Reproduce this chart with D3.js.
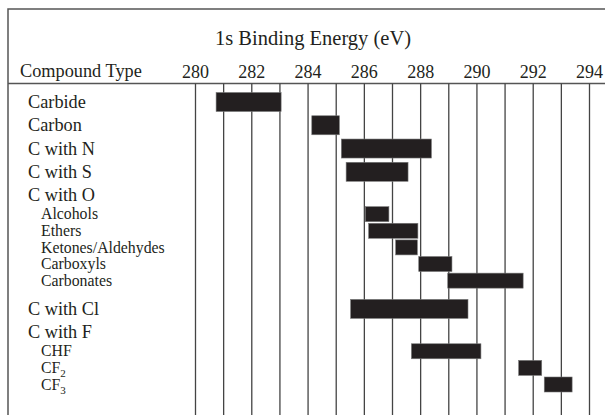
<!DOCTYPE html>
<html lang="en">
  <head>
    <meta charset="utf-8">
    <title>C 1s binding energy</title>
    <script src="https://cdn.jsdelivr.net/npm/d3@7"></script>
    <style type="text/css">
      body { margin: 0; background: #fff; }
      text { font-family: "Liberation Serif", "DejaVu Serif", serif; fill: #231f20; }
      .frame { stroke: #555; stroke-width: 1.5; fill: none; }
      .grid line { stroke: #444; stroke-width: 1.3; }
      .bar { fill: #231f20; stroke: #777; stroke-width: 0.6; }
      .main { font-size: 18.3px; }
      .sub { font-size: 15.8px; }
    </style>
  </head>
  <body>
    <svg id="chart" width="605" height="415"></svg>
    <script type="text/javascript">
      // compound types, top to bottom (level 0 = group heading, 1 = sub-type)
      var names = ["Carbide", "Carbon", "C with N", "C with S", "C with O",
        "Alcohols", "Ethers", "Ketones/Aldehydes", "Carboxyls", "Carbonates",
        "C with Cl", "C with F", "CHF", "CF2", "CF3"];
      var levels = [0, 0, 0, 0, 0, 1, 1, 1, 1, 1, 0, 0, 1, 1, 1];
      // binding energy range (eV), null where no bar is drawn
      var lowE = [280.75, 284.15, 285.2, 285.37, null, 286.05, 286.17, 287.13, 287.95, 288.98,
        285.53, null, 287.69, 291.5, 292.41];
      var highE = [283.06, 285.13, 288.4, 287.57, null, 286.89, 287.92, 287.9, 289.13, 291.66,
        289.7, null, 290.16, 292.32, 293.4];
      var tickLabels = [280, 282, 284, 286, 288, 290, 292, 294];
      var gridValues = d3.range(280, 295);

      var svg = d3.select("#chart"),
        W = +svg.attr("width"), H = +svg.attr("height"),
        frameLeft = 8, frameTop = 9, headerY = 83.5;

      var x = d3.scaleLinear().domain([280, 294]).range([195, 589]);

      // vertical spacing depends on whether a row is a heading or a sub-type
      var pos = [0];
      for (var i = 1; i < names.length; i++) {
        var a = levels[i - 1], b = levels[i], step;
        if (a == 0 && b == 0) step = 1.4;
        else if (a == 0 && b == 1) step = 1.15;
        else if (a == 1 && b == 1) step = 1;
        else step = 1.7;
        pos.push(pos[i - 1] + step);
      }
      var y = d3.scaleLinear().domain([0, pos[pos.length - 1]]).range([102, 384.5]);

      var rows = names.map(function(n, i) {
        return {name: n, level: levels[i], lo: lowE[i], hi: highE[i], pos: pos[i]};
      });

      // frame (picture is cropped on the right and bottom)
      svg.append("path").attr("class", "frame")
        .attr("d", "M" + frameLeft + "," + H + "V" + frameTop + "H" + W);
      svg.append("line").attr("class", "frame")
        .attr("x1", frameLeft).attr("x2", W).attr("y1", headerY).attr("y2", headerY);

      // grid lines, one per eV
      svg.append("g").attr("class", "grid")
        .attr("transform", "translate(0," + headerY + ")")
        .call(d3.axisBottom(x).tickValues(gridValues).tickSize(H - headerY).tickFormat(""))
        .call(function(g) { g.select(".domain").remove(); });

      // tick labels
      svg.append("g")
        .attr("transform", "translate(0," + headerY + ")")
        .call(d3.axisTop(x).tickValues(tickLabels).tickSize(0).tickPadding(6).tickFormat(d3.format("d")))
        .call(function(g) {
          g.select(".domain").remove();
          g.selectAll("text").attr("font-size", 18).attr("font-family", null).attr("fill", "#231f20");
        });

      svg.append("text").attr("class", "main")
        .attr("x", 20).attr("y", 77).text("Compound Type");

      svg.append("text")
        .attr("x", 313).attr("y", 45)
        .attr("text-anchor", "middle")
        .style("font-size", "20.5px")
        .text("1s Binding Energy (eV)");

      // row labels
      var labels = svg.selectAll(".label")
        .data(rows)
        .enter().append("text")
        .attr("class", function(d) { return d.level ? "sub" : "main"; })
        .attr("x", function(d) { return d.level ? 41 : 28; })
        .attr("y", function(d) { return y(d.pos); })
        .attr("dy", "0.33em");

      labels.each(function(d) {
        var t = d3.select(this);
        var m = d.name.match(/^(CF)(\d)$/);
        if (m) {
          t.append("tspan").text(m[1]);
          t.append("tspan").attr("dy", 4).style("font-size", "11px").text(m[2]);
        } else {
          t.text(d.name);
        }
      });

      // bars
      svg.selectAll(".bar")
        .data(rows.filter(function(d) { return d.lo != null; }))
        .enter().append("rect")
        .attr("class", "bar")
        .attr("x", function(d) { return x(d.lo); })
        .attr("width", function(d) { return x(d.hi) - x(d.lo); })
        .attr("y", function(d) { return y(d.pos) - (d.level ? 7.5 : 9.5); })
        .attr("height", function(d) { return d.level ? 15 : 19; });
    </script>
  </body>
</html>
